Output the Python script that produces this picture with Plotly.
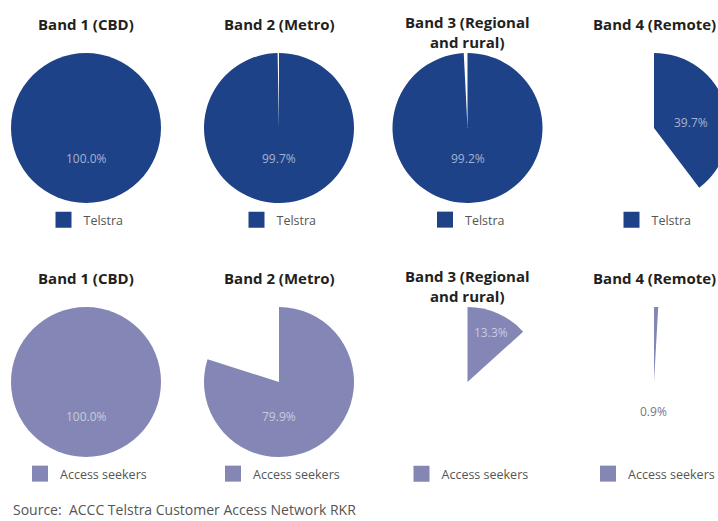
import plotly.graph_objects as go

# ---- data ----
bands = ["Band 1 (CBD)", "Band 2 (Metro)", "Band 3 (Regional<br>and rural)", "Band 4 (Remote)"]
series_names = ["Telstra", "Access seekers"]
telstra = [100.0, 99.7, 99.2, 39.7]
access_seekers = [100.0, 79.9, 13.3, 0.9]
source_text = "Source:\u00a0 ACCC Telstra Customer Access Network RKR"

# ---- style / layout ----
W, H = 735, 521
col_cx = [86, 279, 467.5, 654]
row_cy = [128, 382]
R = 75
colors = ["#1E4287", "#8487B5"]
label_colors = [["#a3b2d2"] * 4, ["#c9cae0", "#c9cae0", "#c9cae0", "#75758a"]]
label_offsets = [[(0, 30), (0, 30), (0, 30), (37, -6)],
                 [(0, 34), (0, 34), (23, -50), (-1, 29)]]
FONT = "Open Sans"
title_font = dict(family=FONT, size=15, color="#231f20")

def px(x):
    return x / W

def py(y):
    return 1 - y / H

fig = go.Figure()
annotations = []
layout_legends = {}
series_values = [telstra, access_seekers]

k = 0
for r, vals in enumerate(series_values):
    cy = row_cy[r]
    for c, v in enumerate(vals):
        cx = col_cx[c]
        fig.add_trace(go.Pie(
            values=[v, 100 - v],
            labels=[series_names[r], " "],
            sort=False, direction="clockwise", rotation=0,
            marker=dict(colors=[colors[r], "rgba(0,0,0,0)"], line=dict(width=0)),
            textinfo="none", hoverinfo="skip", showlegend=False,
            domain=dict(x=[px(cx - R), px(cx + R)], y=[py(cy + R), py(cy - R)]),
        ))
        # value label
        dx, dy = label_offsets[r][c]
        annotations.append(dict(
            text=f"{v:.1f}%", x=px(cx + dx), y=py(cy + dy), xref="paper", yref="paper",
            showarrow=False, xanchor="center", yanchor="middle",
            font=dict(family=FONT, size=12, color=label_colors[r][c])))
        # title
        nlines = bands[c].count("<br>") + 1
        ty = cy - 104 + (nlines - 1) * 8
        annotations.append(dict(
            text=f"<b>{bands[c]}</b>", x=px(cx), y=py(ty), xref="paper", yref="paper",
            showarrow=False, xanchor="center", yanchor="middle", font=title_font))
        # legend (dummy trace)
        k += 1
        lname = "legend" if k == 1 else f"legend{k}"
        fig.add_trace(go.Scatter(
            x=[None], y=[None], mode="markers", name=series_names[r],
            marker=dict(symbol="square", size=16, color=colors[r]),
            legend=lname, showlegend=True, hoverinfo="skip"))
        layout_legends[lname] = dict(
            x=px(cx), xanchor="center", y=py(cy + 92), yanchor="middle",
            orientation="h", bgcolor="rgba(0,0,0,0)", itemwidth=30,
            font=dict(family=FONT, size=12.5, color="#555555"))

annotations.append(dict(
    text=source_text, x=px(11), y=py(509), xref="paper", yref="paper",
    showarrow=False, xanchor="left", yanchor="middle",
    font=dict(family=FONT, size=14, color="#555555")))

fig.update_layout(
    width=W, height=H,
    margin=dict(l=0, r=0, t=0, b=0),
    paper_bgcolor="white", plot_bgcolor="white",
    xaxis=dict(visible=False), yaxis=dict(visible=False),
    annotations=annotations,
    **layout_legends,
)

fig.write_html("out.html", config={"displayModeBar": False})
